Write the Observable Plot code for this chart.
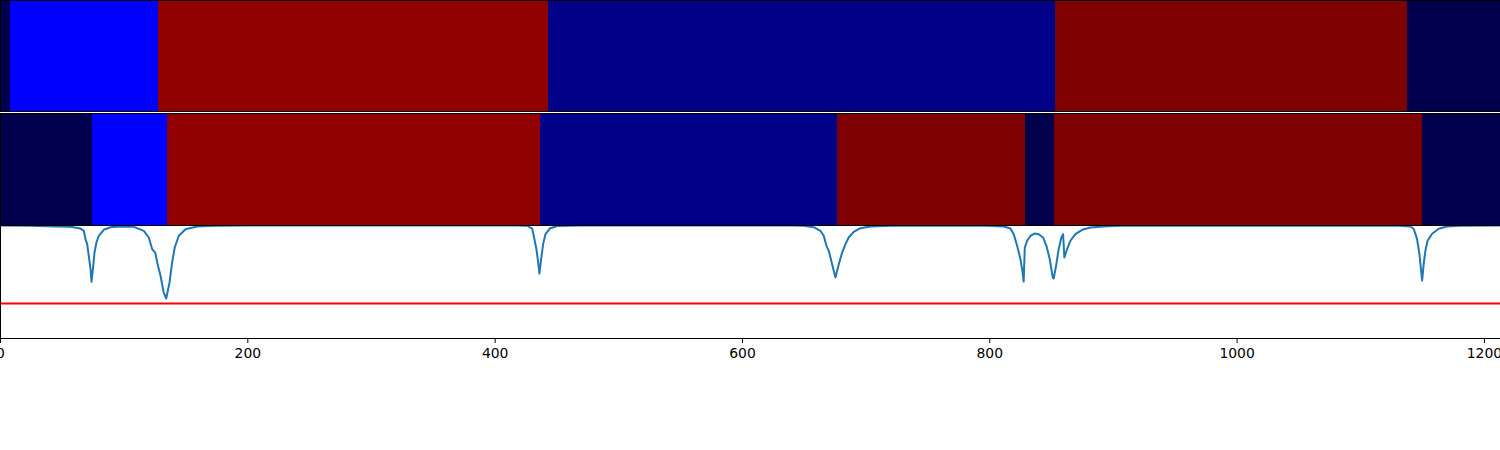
<!DOCTYPE html>
<html>
<head>
<meta charset="utf-8">
<script src="https://cdn.jsdelivr.net/npm/d3@7"></script>
<script src="https://cdn.jsdelivr.net/npm/@observablehq/plot@0.6"></script>
<style>
  html, body { margin: 0; padding: 0; background: #fff; }
  #chart svg { display: block; }
  #bottom svg { margin-top: -1px; }
</style>
</head>
<body>
<div id="chart"><div id="top"></div><div id="middle"></div><div id="bottom"></div></div>
<script>
// ---- data ----
const xMax = 1213;
const stateNames = ["s0", "s1", "s2", "s3", "s4"];

const topStarts = [0, 8.1, 127.5, 443.1, 853.1, 1137.7];
const topEnds   = [8.1, 127.5, 443.1, 853.1, 1137.7, 1213];
const topStates = ["s0", "s1", "s2", "s3", "s4", "s0"];

const midStarts = [0, 74.4, 135.0, 436.6, 676.8, 828.8, 852.3, 1149.8];
const midEnds   = [74.4, 135.0, 436.6, 676.8, 828.8, 852.3, 1149.8, 1213];
const midStates = ["s0", "s1", "s2", "s3", "s4", "s0", "s4", "s0"];

const lineX = [0, 24, 45, 56.6, 64.7, 67.4, 68.7, 70.1, 71.4, 72.8, 73.6, 75.0, 76.0, 77.6, 79.5, 83.5, 88.9, 97.0,
  107.8, 115.9, 119.9, 122.7, 125.3, 126.7, 129.4, 132.0, 134.0, 136.7, 138.8, 140.9, 144.2, 149.6, 159.0, 174,
  200, 416, 425.9, 429.9, 431.2, 433.4, 434.8, 435.8, 437.2, 438.8, 440.7, 444.2, 450.1, 469,
  500, 640, 649.5, 657.6, 663.0, 665.7, 667.9, 669.8, 672.5, 675.2, 677.9, 680.6, 683.3, 685.9, 690.0, 695.4, 703.5, 719.7,
  792.4, 811.3, 816.7, 819.4, 822.1, 824.8, 826.6, 827.4, 828.3, 830.2, 832.9, 836.1, 839.6, 843.1, 845.8, 848.5, 850.9, 851.7,
  853.6, 855.7, 857.9, 859.3, 860.3, 862.5, 865.2, 869.2, 874.7, 881.4, 892.1, 905.6,
  1128, 1140.1, 1142.8, 1145.5, 1147.4, 1148.8, 1149.6, 1150.9, 1152.3, 1154.1, 1157.7, 1163.0, 1169.8, 1180.5, 1213];
const lineV = [1.0, 0.998, 0.992, 0.988, 0.973, 0.953, 0.879, 0.835, 0.732, 0.613, 0.502, 0.643, 0.761, 0.850, 0.909, 0.962, 0.985, 0.991,
  0.988, 0.953, 0.894, 0.790, 0.755, 0.673, 0.555, 0.407, 0.354, 0.496, 0.673, 0.805, 0.909, 0.967, 0.991, 0.998,
  1.0, 0.999, 0.998, 0.973, 0.909, 0.790, 0.673, 0.575, 0.702, 0.835, 0.923, 0.973, 0.996, 0.999,
  1.0, 1.0, 0.998, 0.985, 0.953, 0.909, 0.820, 0.776, 0.658, 0.540, 0.658, 0.761, 0.835, 0.894, 0.944, 0.976, 0.991, 0.997,
  0.999, 0.991, 0.973, 0.923, 0.820, 0.702, 0.584, 0.504, 0.805, 0.865, 0.909, 0.929, 0.923, 0.894, 0.820, 0.702, 0.540, 0.531,
  0.643, 0.790, 0.894, 0.923, 0.717, 0.790, 0.865, 0.923, 0.962, 0.982, 0.991, 0.998,
  0.999, 0.991, 0.971, 0.882, 0.750, 0.602, 0.513, 0.661, 0.779, 0.867, 0.927, 0.971, 0.991, 0.998, 1.0];
const threshold = 0.31;
const xTicks = [0, 200, 400, 600, 800, 1000, 1200];

// ---- build ----
const stateColors = ["#00004c", "#0000ff", "#900000", "#000088", "#7f0000"];
const segs = (s, e, st) => s.map((v, i) => ({x1: v, x2: e[i], state: st[i]}));
const lineData = lineX.map((x, i) => ({x, v: lineV[i]}));
const font = "'DejaVu Sans', sans-serif";

function bandPlot(data, marginBottom) {
  return Plot.plot({
    width: 1500, height: 113,
    marginTop: 0, marginLeft: 0, marginRight: 0, marginBottom,
    x: {domain: [0, xMax], axis: null},
    y: {axis: null},
    color: {type: "ordinal", domain: stateNames, range: stateColors},
    style: {fontFamily: font, background: "#fff"},
    marks: [
      Plot.rect(data, {x1: "x1", x2: "x2", fill: "state", shapeRendering: "crispEdges"}),
      Plot.frame({stroke: "#000", strokeWidth: 1, shapeRendering: "crispEdges"})
    ]
  });
}

document.getElementById("top").append(bandPlot(segs(topStarts, topEnds, topStates), 2));
document.getElementById("middle").append(bandPlot(segs(midStarts, midEnds, midStates), 1));

const bottom = Plot.plot({
  width: 1500, height: 225,
  marginTop: 0, marginLeft: 0, marginRight: 0, marginBottom: 112,
  x: {domain: [0, xMax], ticks: xTicks, tickFormat: d3.format("d"), tickSize: 5, tickPadding: 5, label: null},
  y: {domain: [0, 1], axis: null},
  style: {fontFamily: font, fontSize: "13.9px", color: "#000", background: "#fff"},
  marks: [
    Plot.line(lineData, {x: "x", y: "v", stroke: "#1f77b4", strokeWidth: 2, curve: "linear"}),
    Plot.ruleY([threshold], {stroke: "#ff0000", strokeWidth: 2}),
    Plot.frame({stroke: "#000", strokeWidth: 1})
  ]
});
document.getElementById("bottom").append(bottom);
</script>
</body>
</html>
